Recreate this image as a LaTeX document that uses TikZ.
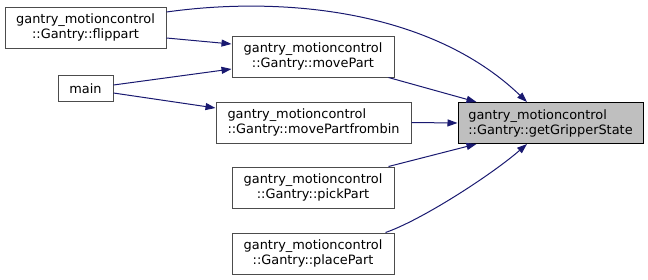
\documentclass[tikz,border=0pt]{standalone}
\usepackage{fontspec}
\setmainfont{DejaVu Sans}
\usetikzlibrary{arrows.meta}
\definecolor{edgeblue}{RGB}{25,25,112}
\definecolor{rootgray}{RGB}{191,191,191}

\begin{document}
\begin{tikzpicture}[x=1pt, y=-1pt,
    fnbox/.style={draw=black!70, line width=1pt, inner sep=0pt,
      font=\fontsize{12.9}{15}\selectfont, align=center, minimum height=41pt},
    call/.style={draw=edgeblue, line width=1pt,
      arrows={-Triangle[length=10pt, width=7pt]}}]
  \useasboundingbox (0, 0) rectangle (648, 279);
  % Draw caller boxes
  \node [fnbox, minimum width=161pt] (flippart) at (85.5, 27.5)
    {gantry\_motioncontrol\\::Gantry::flippart};
  \node [fnbox, minimum width=55pt, minimum height=26pt] (main) at (85.5, 88.5) {main};
  \node [fnbox, minimum width=162pt] (movepart) at (313, 56.5)
    {gantry\_motioncontrol\\::Gantry::movePart};
  \node [fnbox, minimum width=195pt, align=left] (movepartfrombin) at (313.5, 122.5)
    {gantry\_motioncontrol\\::Gantry::movePartfrombin};
  \node [fnbox, minimum width=162pt] (pickpart) at (313, 187.5)
    {gantry\_motioncontrol\\::Gantry::pickPart};
  \node [fnbox, minimum width=162pt] (placepart) at (313, 253.5)
    {gantry\_motioncontrol\\::Gantry::placePart};
  % Draw the called function
  \node [fnbox, minimum width=185pt, align=left, draw=black, fill=rootgray] (gripper) at (550.5, 123)
    {gantry\_motioncontrol\\::Gantry::getGripperState};
  % Draw calls into the middle column
  \draw [call] ([yshift=-10.5pt]flippart.east) -- ([yshift=12.5pt]movepart.west);
  \draw [call] ([yshift=3.5pt]main.east) -- ([yshift=-12.5pt]movepart.west);
  \draw [call] ([yshift=-4.5pt]main.east) -- ([yshift=14.5pt]movepartfrombin.west);
  % Draw calls into getGripperState
  \draw [call] ([yshift=15.5pt]flippart.east)
    .. controls +(114, -16) and +(-97, -93) .. ([xshift=-23.5pt]gripper.north);
  \draw [call] ([xshift=-6pt]movepart.south east) -- ([xshift=19pt]gripper.north west);
  \draw [call] (movepartfrombin.east) -- (gripper.west);
  \draw [call] ([xshift=-6pt]pickpart.north east) -- ([xshift=19pt]gripper.south west);
  \draw [call] ([xshift=-9pt]placepart.north east)
    .. controls +(35, -12) and +(-37, 32) .. ([xshift=-23.5pt]gripper.south);
\end{tikzpicture}
\end{document}
